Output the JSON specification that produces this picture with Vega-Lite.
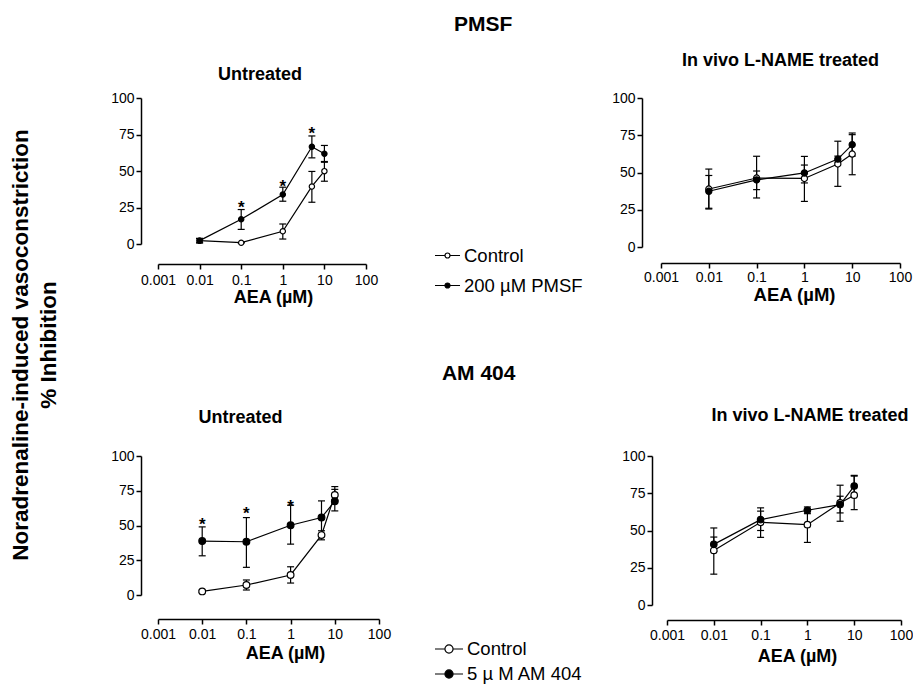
{
  "$schema": "https://vega.github.io/schema/vega-lite/v6.json",
  "padding": {"left": 10, "top": 14, "right": 0, "bottom": 0},
  "background": "white",
  "datasets": {
    "tl": [
      {"x": 0.01, "y": 2.3, "lo": 0.8, "hi": 3.8, "series": "Control"},
      {"x": 0.1, "y": 0.9, "lo": 0.9, "hi": 0.9, "series": "Control"},
      {"x": 1, "y": 8.7, "lo": 3.4, "hi": 13.7, "series": "Control"},
      {"x": 5, "y": 39.4, "lo": 28.6, "hi": 49.7, "series": "Control"},
      {"x": 10, "y": 49.9, "lo": 43, "hi": 56.5, "series": "Control"},
      {"x": 0.01, "y": 2.3, "lo": 0.8, "hi": 3.8, "series": "200 µM PMSF"},
      {"x": 0.1, "y": 16.9, "lo": 10, "hi": 23.6, "series": "200 µM PMSF"},
      {"x": 1, "y": 33.9, "lo": 29.3, "hi": 38.9, "series": "200 µM PMSF"},
      {"x": 5, "y": 66.6, "lo": 59, "hi": 74, "series": "200 µM PMSF"},
      {"x": 10, "y": 61.8, "lo": 56, "hi": 67.5, "series": "200 µM PMSF"}
    ],
    "tl_star": [
      {"x": 0.1, "y": 27.5},
      {"x": 1, "y": 41.6},
      {"x": 5, "y": 78.2}
    ],
    "tr": [
      {"x": 0.01, "y": 38.9, "lo": 26, "hi": 52.3, "series": "Control"},
      {"x": 0.1, "y": 46.3, "lo": 32.9, "hi": 60.9, "series": "Control"},
      {"x": 1, "y": 46, "lo": 30.6, "hi": 60.8, "series": "Control"},
      {"x": 5, "y": 55.7, "lo": 40.7, "hi": 71, "series": "Control"},
      {"x": 10, "y": 62.4, "lo": 48.5, "hi": 75.4, "series": "Control"},
      {"x": 0.01, "y": 37.4, "lo": 25.5, "hi": 48, "series": "200 µM PMSF"},
      {"x": 0.1, "y": 45, "lo": 38.5, "hi": 51, "series": "200 µM PMSF"},
      {"x": 1, "y": 49.7, "lo": 43, "hi": 55, "series": "200 µM PMSF"},
      {"x": 5, "y": 59, "lo": 57, "hi": 61, "series": "200 µM PMSF"},
      {"x": 10, "y": 68.7, "lo": 61, "hi": 76.5, "series": "200 µM PMSF"}
    ],
    "bl": [
      {"x": 0.01, "y": 2.6, "lo": 1.8, "hi": 3.4, "series": "Control"},
      {"x": 0.1, "y": 7.2, "lo": 3.6, "hi": 10.8, "series": "Control"},
      {"x": 1, "y": 14.4, "lo": 8.6, "hi": 20.3, "series": "Control"},
      {"x": 5, "y": 43.1, "lo": 39.7, "hi": 46.2, "series": "Control"},
      {"x": 10, "y": 72, "lo": 68, "hi": 78, "series": "Control"},
      {"x": 0.01, "y": 38.8, "lo": 28.2, "hi": 49, "series": "5 µ M AM 404"},
      {"x": 0.1, "y": 38.3, "lo": 19.9, "hi": 55.7, "series": "5 µ M AM 404"},
      {"x": 1, "y": 50.2, "lo": 36.6, "hi": 64.6, "series": "5 µ M AM 404"},
      {"x": 5, "y": 55.7, "lo": 44, "hi": 67.7, "series": "5 µ M AM 404"},
      {"x": 10, "y": 67.5, "lo": 60.5, "hi": 76, "series": "5 µ M AM 404"}
    ],
    "bl_star": [
      {"x": 0.01, "y": 52.9},
      {"x": 0.1, "y": 61.2},
      {"x": 1, "y": 66}
    ],
    "br": [
      {"x": 0.01, "y": 36.6, "lo": 20.7, "hi": 51.7, "series": "Control"},
      {"x": 0.1, "y": 55.5, "lo": 45.4, "hi": 65.2, "series": "Control"},
      {"x": 1, "y": 53.9, "lo": 42, "hi": 64, "series": "Control"},
      {"x": 5, "y": 68.5, "lo": 56.2, "hi": 80.4, "series": "Control"},
      {"x": 10, "y": 73.7, "lo": 64, "hi": 86.5, "series": "Control"},
      {"x": 0.01, "y": 40.7, "lo": 36, "hi": 45.6, "series": "5 µ M AM 404"},
      {"x": 0.1, "y": 57.3, "lo": 50, "hi": 63, "series": "5 µ M AM 404"},
      {"x": 1, "y": 63.6, "lo": 61.3, "hi": 65.8, "series": "5 µ M AM 404"},
      {"x": 5, "y": 67.4, "lo": 61.8, "hi": 73, "series": "5 µ M AM 404"},
      {"x": 10, "y": 79.8, "lo": 73, "hi": 87, "series": "5 µ M AM 404"}
    ]
  },
  "title": {
    "text": ["Noradrenaline-induced  vasoconstriction", "% Inhibition"],
    "orient": "left",
    "anchor": "middle",
    "frame": "bounds",
    "fontSize": 22.5,
    "lineHeight": 28,
    "offset": 50,
    "dx": 4
  },
  "bounds": "flush",
  "spacing": 358,
  "resolve": {"scale": {"fill": "independent"}, "legend": {"fill": "independent"}},
  "vconcat": [
    {
      "title": {"text": "PMSF", "fontSize": 21, "frame": "bounds", "anchor": "middle", "offset": 17, "dx": -28},
      "bounds": "flush",
      "spacing": 295,
      "resolve": {"scale": {"fill": "independent"}, "legend": {"fill": "independent"}},
      "hconcat": [
        {
          "width": 208,
          "height": 146,
          "title": {"text": "Untreated", "fontSize": 18, "frame": "group", "anchor": "middle", "offset": 7, "dx": -2},
          "data": {"name": "tl"},
          "encoding": {
            "x": {"field": "x", "type": "quantitative", "scale": {"type": "log", "domain": [0.001, 100], "nice": false},
              "axis": {"values": [0.001, 0.01, 0.1, 1, 10, 100], "format": "~g", "title": "AEA (µM)", "offset": 20, "labelPadding": 4, "titleX": 115, "titleY": 38, "titleBaseline": "alphabetic"}},
            "y": {"field": "y", "type": "quantitative", "scale": {"domain": [0, 100], "nice": false},
              "axis": {"values": [0, 25, 50, 75, 100], "title": null, "offset": 17}}
          },
          "layer": [
            {"mark": {"type": "rule", "color": "black", "strokeWidth": 1.2},
             "encoding": {"y": {"field": "lo", "type": "quantitative", "scale": {"domain": [0, 100], "nice": false}, "axis": {"values": [0, 25, 50, 75, 100], "title": null, "offset": 17}}, "y2": {"field": "hi"}}},
            {"mark": {"type": "tick", "orient": "horizontal", "size": 7, "thickness": 1.2, "color": "black", "opacity": 1},
             "encoding": {"y": {"field": "lo", "type": "quantitative", "scale": {"domain": [0, 100], "nice": false}, "axis": {"values": [0, 25, 50, 75, 100], "title": null, "offset": 17}}}},
            {"mark": {"type": "tick", "orient": "horizontal", "size": 7, "thickness": 1.2, "color": "black", "opacity": 1},
             "encoding": {"y": {"field": "hi", "type": "quantitative", "scale": {"domain": [0, 100], "nice": false}, "axis": {"values": [0, 25, 50, 75, 100], "title": null, "offset": 17}}}},
            {"mark": {"type": "line", "color": "black", "strokeWidth": 1.2}, "encoding": {"detail": {"field": "series"}}},
            {"mark": {"type": "point", "shape": "circle", "filled": true, "stroke": "black", "strokeWidth": 1.2, "size": 28, "opacity": 1},
             "encoding": {"fill": {"field": "series", "type": "nominal", "scale": {"domain": ["Control", "200 µM PMSF"], "range": ["white", "black"]},
               "legend": {"orient": "none", "legendX": 276, "legendY": 144, "title": null, "padding": 0,
                 "symbolType": "M-1,0H-0.2M0.2,0H1M-0.2,0A0.2,0.2,0,1,1,0.2,0A0.2,0.2,0,1,1,-0.2,0",
                 "symbolSize": 625, "symbolStrokeColor": "black", "symbolStrokeWidth": 1.2, "symbolOpacity": 1,
                 "labelFontSize": 18.5, "labelFont": "Liberation Sans", "labelColor": "black", "labelOffset": 3, "rowPadding": 7}}}},
            {"data": {"name": "tl_star"}, "mark": {"type": "text", "text": "*", "fontSize": 17, "fontWeight": "bold", "baseline": "alphabetic", "dy": 9, "color": "black"}}
          ]
        },
        {
          "width": 239,
          "height": 149,
          "title": {"text": "In vivo L-NAME treated", "fontSize": 18, "frame": "group", "anchor": "middle", "offset": 21},
          "data": {"name": "tr"},
          "encoding": {
            "x": {"field": "x", "type": "quantitative", "scale": {"type": "log", "domain": [0.001, 100], "nice": false},
              "axis": {"values": [0.001, 0.01, 0.1, 1, 10, 100], "format": "~g", "title": "AEA (µM)", "titleFontSize": 18.5, "offset": 16, "labelPadding": 2, "titleX": 133, "titleY": 37, "titleBaseline": "alphabetic"}},
            "y": {"field": "y", "type": "quantitative", "scale": {"domain": [0, 100], "nice": false},
              "axis": {"values": [0, 25, 50, 75, 100], "title": null, "offset": 19}}
          },
          "layer": [
            {"mark": {"type": "rule", "color": "black", "strokeWidth": 1.2},
             "encoding": {"y": {"field": "lo", "type": "quantitative", "scale": {"domain": [0, 100], "nice": false}, "axis": {"values": [0, 25, 50, 75, 100], "title": null, "offset": 19}}, "y2": {"field": "hi"}}},
            {"mark": {"type": "tick", "orient": "horizontal", "size": 7, "thickness": 1.2, "color": "black", "opacity": 1},
             "encoding": {"y": {"field": "lo", "type": "quantitative", "scale": {"domain": [0, 100], "nice": false}, "axis": {"values": [0, 25, 50, 75, 100], "title": null, "offset": 19}}}},
            {"mark": {"type": "tick", "orient": "horizontal", "size": 7, "thickness": 1.2, "color": "black", "opacity": 1},
             "encoding": {"y": {"field": "hi", "type": "quantitative", "scale": {"domain": [0, 100], "nice": false}, "axis": {"values": [0, 25, 50, 75, 100], "title": null, "offset": 19}}}},
            {"mark": {"type": "line", "color": "black", "strokeWidth": 1.2}, "encoding": {"detail": {"field": "series"}}},
            {"mark": {"type": "point", "shape": "circle", "filled": true, "stroke": "black", "strokeWidth": 1.2, "size": 38, "opacity": 1},
             "encoding": {"fill": {"field": "series", "type": "nominal", "scale": {"domain": ["Control", "200 µM PMSF"], "range": ["white", "black"]}, "legend": null}}}
          ]
        }
      ]
    },
    {
      "title": {"text": "AM 404", "fontSize": 21, "frame": "bounds", "anchor": "middle", "offset": 23, "dx": -33},
      "bounds": "flush",
      "spacing": 288,
      "resolve": {"scale": {"fill": "independent"}, "legend": {"fill": "independent"}},
      "hconcat": [
        {
          "width": 221,
          "height": 139,
          "title": {"text": "Untreated", "fontSize": 18, "frame": "group", "anchor": "middle", "offset": 22, "dx": -28},
          "data": {"name": "bl"},
          "encoding": {
            "x": {"field": "x", "type": "quantitative", "scale": {"type": "log", "domain": [0.001, 100], "nice": false},
              "axis": {"values": [0.001, 0.01, 0.1, 1, 10, 100], "format": "~g", "title": "AEA (µM)", "offset": 24, "labelPadding": 3, "titleX": 127, "titleY": 39, "titleBaseline": "alphabetic"}},
            "y": {"field": "y", "type": "quantitative", "scale": {"domain": [0, 100], "nice": false},
              "axis": {"values": [0, 25, 50, 75, 100], "title": null, "offset": 17}}
          },
          "layer": [
            {"mark": {"type": "rule", "color": "black", "strokeWidth": 1.2},
             "encoding": {"y": {"field": "lo", "type": "quantitative", "scale": {"domain": [0, 100], "nice": false}, "axis": {"values": [0, 25, 50, 75, 100], "title": null, "offset": 17}}, "y2": {"field": "hi"}}},
            {"mark": {"type": "tick", "orient": "horizontal", "size": 7, "thickness": 1.2, "color": "black", "opacity": 1},
             "encoding": {"y": {"field": "lo", "type": "quantitative", "scale": {"domain": [0, 100], "nice": false}, "axis": {"values": [0, 25, 50, 75, 100], "title": null, "offset": 17}}}},
            {"mark": {"type": "tick", "orient": "horizontal", "size": 7, "thickness": 1.2, "color": "black", "opacity": 1},
             "encoding": {"y": {"field": "hi", "type": "quantitative", "scale": {"domain": [0, 100], "nice": false}, "axis": {"values": [0, 25, 50, 75, 100], "title": null, "offset": 17}}}},
            {"mark": {"type": "line", "color": "black", "strokeWidth": 1.2}, "encoding": {"detail": {"field": "series"}}},
            {"mark": {"type": "point", "shape": "circle", "filled": true, "stroke": "black", "strokeWidth": 1.2, "size": 45, "opacity": 1},
             "encoding": {"fill": {"field": "series", "type": "nominal", "scale": {"domain": ["Control", "5 µ M AM 404"], "range": ["white", "black"]},
               "legend": {"orient": "none", "legendX": 276, "legendY": 178, "title": null, "padding": 0,
                 "symbolType": "M-1,0H-0.29M0.29,0H1M-0.29,0A0.29,0.29,0,1,1,0.29,0A0.29,0.29,0,1,1,-0.29,0",
                 "symbolSize": 784, "symbolStrokeColor": "black", "symbolStrokeWidth": 1.2, "symbolOpacity": 1,
                 "labelFontSize": 18.5, "labelFont": "Liberation Sans", "labelColor": "black", "labelOffset": 3, "rowPadding": -4}}}},
            {"data": {"name": "bl_star"}, "mark": {"type": "text", "text": "*", "fontSize": 17, "fontWeight": "bold", "baseline": "alphabetic", "dy": 9, "color": "black"}}
          ]
        },
        {
          "width": 234,
          "height": 149,
          "title": {"text": "In vivo L-NAME treated", "fontSize": 18, "frame": "group", "anchor": "middle", "offset": 24, "dx": 26},
          "data": {"name": "br"},
          "encoding": {
            "x": {"field": "x", "type": "quantitative", "scale": {"type": "log", "domain": [0.001, 100], "nice": false},
              "axis": {"values": [0.001, 0.01, 0.1, 1, 10, 100], "format": "~g", "title": "AEA (µM)", "offset": 15, "labelPadding": 3, "titleX": 130, "titleY": 41, "titleBaseline": "alphabetic"}},
            "y": {"field": "y", "type": "quantitative", "scale": {"domain": [0, 100], "nice": false},
              "axis": {"values": [0, 25, 50, 75, 100], "title": null, "offset": 15}}
          },
          "layer": [
            {"mark": {"type": "rule", "color": "black", "strokeWidth": 1.2},
             "encoding": {"y": {"field": "lo", "type": "quantitative", "scale": {"domain": [0, 100], "nice": false}, "axis": {"values": [0, 25, 50, 75, 100], "title": null, "offset": 15}}, "y2": {"field": "hi"}}},
            {"mark": {"type": "tick", "orient": "horizontal", "size": 7, "thickness": 1.2, "color": "black", "opacity": 1},
             "encoding": {"y": {"field": "lo", "type": "quantitative", "scale": {"domain": [0, 100], "nice": false}, "axis": {"values": [0, 25, 50, 75, 100], "title": null, "offset": 15}}}},
            {"mark": {"type": "tick", "orient": "horizontal", "size": 7, "thickness": 1.2, "color": "black", "opacity": 1},
             "encoding": {"y": {"field": "hi", "type": "quantitative", "scale": {"domain": [0, 100], "nice": false}, "axis": {"values": [0, 25, 50, 75, 100], "title": null, "offset": 15}}}},
            {"mark": {"type": "line", "color": "black", "strokeWidth": 1.2}, "encoding": {"detail": {"field": "series"}}},
            {"mark": {"type": "point", "shape": "circle", "filled": true, "stroke": "black", "strokeWidth": 1.2, "size": 42, "opacity": 1},
             "encoding": {"fill": {"field": "series", "type": "nominal", "scale": {"domain": ["Control", "5 µ M AM 404"], "range": ["white", "black"]}, "legend": null}}}
          ]
        }
      ]
    }
  ],
  "config": {
    "font": "Liberation Sans",
    "view": {"stroke": null},
    "title": {"font": "Liberation Sans", "fontWeight": "bold", "color": "black"},
    "axis": {
      "grid": false,
      "domainColor": "black",
      "domainWidth": 1.5,
      "tickColor": "black",
      "tickWidth": 1.5,
      "tickSize": 5,
      "labelFont": "Liberation Sans",
      "labelFontSize": 14,
      "labelColor": "black",
      "labelFlush": false,
      "labelOverlap": false,
      "labelPadding": 2,
      "titleFont": "Liberation Sans",
      "titleFontSize": 18,
      "titleFontWeight": "bold",
      "titleColor": "black"
    }
  }
}
